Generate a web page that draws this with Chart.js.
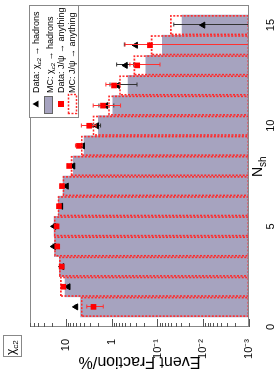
<!DOCTYPE html>
<html>
<head>
<meta charset="utf-8">
<script src="https://cdn.jsdelivr.net/npm/chart.js@4.4.0/dist/chart.umd.min.js"></script>
<style>
  html, body { margin: 0; padding: 0; background: #fff; overflow: hidden; }
  body { width: 277px; height: 369px; position: relative; }
  /* the plot is drawn landscape, then turned a quarter turn to the left */
  #wrap {
    position: absolute; left: 0; top: 0;
    width: 369px; height: 277px;
    transform-origin: 0 0;
    transform: translate(0, 369px) rotate(-90deg);
  }
</style>
</head>
<body>
<div id="wrap"><canvas id="chartNsh" width="369" height="277"></canvas></div>
<script>
const nsh = [1, 2, 3, 4, 5, 6, 7, 8, 9, 10, 11, 12, 13, 14, 15];

// MC histograms (%)
const mcChic2 = [4.8, 10.5, 14.0, 17.6, 18.2, 14.7, 11.5, 6.9, 4.0, 1.95, 0.95, 0.44, 0.18, 0.078, 0.029];
const mcJpsi  = [4.5, 12.9, 13.6, 17.4, 17.6, 14.5, 11.3, 7.5, 4.5, 2.5, 1.15, 0.66, 0.32, 0.134, 0.051];

// data points (%) with lower / upper ends of the error bars
const dataChic2   = [6.05, 8.9, 12.2, 18.5, 18.2, 12.9, 9.7, 7.0, 4.3, 2.13, 1.34, 0.74, 0.50, 0.30, 0.0101];
const dataChic2Lo = [5.85, 8.6, 11.8, 17.9, 17.6, 12.4, 9.3, 6.6, 4.0, 1.75, 0.9, 0.28, 0.33, 0.15, 0.0001];
const dataChic2Hi = [6.25, 9.2, 12.6, 19.1, 18.8, 13.4, 10.1, 7.4, 4.6, 2.6, 1.9, 1.09, 0.78, 0.53, 0.044];

const dataJpsi   = [2.5, 11.4, 12.4, 15.5, 16.0, 14.2, 12.2, 8.5, 5.2, 3.1, 1.55, 0.89, 0.277, 0.146, null];
const dataJpsiLo = [1.53, 10.8, 11.8, 14.8, 15.3, 13.5, 11.4, 7.7, 4.4, 2.2, 0.64, 0.66, 0.088, 0.0001, null];
const dataJpsiHi = [3.5, 12.0, 13.0, 16.2, 16.7, 14.9, 13.0, 9.3, 6.2, 4.6, 2.54, 1.34, 0.40, 0.51, null];

const yTicks = [0.001, 0.01, 0.1, 1, 10];
const xTicks = [0, 5, 10, 15];

const FONT = '"Liberation Sans", Arial, Helvetica, sans-serif';
const sup = { '-': '\u207B', '1': '\u00B9', '2': '\u00B2', '3': '\u00B3' };

function logLabel(v) {
  const l = Math.log10(v);
  const e = Math.round(l);
  if (Math.abs(l - e) > 1e-6 || !yTicks.includes(Math.pow(10, e)) && e > 1) return '';
  if (e === 0) return '1';
  if (e === 1) return '10';
  return '10' + String(e).split('').map(c => sup[c]).join('');
}

function pts(vals) {
  return nsh.map((x, i) => ({ x: x, y: vals[i] }));
}

// text with subscripts, parts drawn one after the other
function rich(ctx, x, y, parts, size) {
  parts.forEach(p => {
    ctx.font = (p.s || size) + 'px ' + FONT;
    ctx.fillText(p.t, x, y + (p.dy || 0));
    x += ctx.measureText(p.t).width;
  });
}

const decor = {
  id: 'decor',
  beforeDatasetDraw(chart, args) {
    const ds = chart.data.datasets[args.index];
    if (!ds.errLo) return;
    const ctx = chart.ctx, ca = chart.chartArea;
    const xs = chart.scales.x, ys = chart.scales.y;
    ctx.save();
    ctx.beginPath();
    ctx.rect(ca.left, ca.top, ca.right - ca.left, ca.bottom - ca.top);
    ctx.clip();
    ctx.strokeStyle = ds.errColor;
    ctx.lineWidth = 1;
    ds.data.forEach((p, i) => {
      if (p.y == null) return;
      const x = Math.round(xs.getPixelForValue(p.x)) + 0.5;
      const y1 = ys.getPixelForValue(Math.max(ds.errLo[i], 1e-4));
      const y2 = ys.getPixelForValue(ds.errHi[i]);
      ctx.beginPath();
      ctx.moveTo(x, y1); ctx.lineTo(x, y2);
      ctx.moveTo(x - 2, y1); ctx.lineTo(x + 2, y1);
      ctx.moveTo(x - 2, y2); ctx.lineTo(x + 2, y2);
      ctx.stroke();
    });
    ctx.restore();
  },
  afterDatasetDraw(chart, args) {
    const ds = chart.data.datasets[args.index];
    if (!ds.dashedBox) return;
    const ctx = chart.ctx;
    const meta = chart.getDatasetMeta(args.index);
    ctx.save();
    ctx.strokeStyle = '#ff2a2a';
    ctx.lineWidth = 1.6;
    ctx.setLineDash([2, 1.5]);
    meta.data.forEach(bar => {
      const b = bar.getProps(['x', 'y', 'base', 'width'], true);
      ctx.strokeRect(b.x - b.width / 2 + 0.8, b.y, b.width - 1.6, b.base - b.y - 0.8);
    });
    ctx.restore();
  },
  afterDraw(chart) {
    const ctx = chart.ctx, ca = chart.chartArea;
    const ys = chart.scales.y;
    ctx.save();

    // frame
    ctx.strokeStyle = '#888';
    ctx.lineWidth = 1;
    ctx.strokeRect(ca.left + 0.5, ca.top + 0.5, ca.right - ca.left - 1, ca.bottom - ca.top - 1);

    // log ticks pointing into the pad
    ctx.strokeStyle = '#555';
    ctx.beginPath();
    for (let e = -3; e <= 1; e++) {
      for (let m = 1; m <= 9; m++) {
        const v = m * Math.pow(10, e);
        if (v > ys.max) break;
        const y = Math.round(ys.getPixelForValue(v)) + 0.5;
        ctx.moveTo(ca.left, y);
        ctx.lineTo(ca.left + (m === 1 ? 8 : 4), y);
      }
    }
    ctx.stroke();

    // x axis title N_sh
    ctx.fillStyle = '#000';
    ctx.textBaseline = 'alphabetic';
    rich(ctx, ca.left + 150, ca.bottom + 13, [{ t: 'N' }, { t: 'sh', s: 10, dy: 4 }], 14);

    // chi_c2 tag
    ctx.strokeStyle = '#888';
    ctx.strokeRect(12.5, 3.5, 21, 18);
    rich(ctx, 14, 15, [{ t: '\u03C7' }, { t: 'c2', s: 8, dy: 3 }], 12);

    // legend
    const lx = ca.right - 113, ly = ca.top - 1;
    ctx.fillStyle = '#fff';
    ctx.fillRect(lx, ly, 113, 50);
    ctx.strokeStyle = '#888';
    ctx.strokeRect(lx + 0.5, ly + 0.5, 112, 49);

    // triangle marker
    ctx.fillStyle = '#000';
    ctx.beginPath();
    ctx.moveTo(lx + 14, ly + 3.5);
    ctx.lineTo(lx + 17.5, ly + 9.5);
    ctx.lineTo(lx + 10.5, ly + 9.5);
    ctx.closePath();
    ctx.fill();
    // gray box
    ctx.fillStyle = '#a6a3bf';
    ctx.fillRect(lx + 4, ly + 15, 18, 9);
    ctx.strokeStyle = '#666';
    ctx.strokeRect(lx + 4.5, ly + 15.5, 17, 8);
    // red square
    ctx.fillStyle = '#ff0000';
    ctx.fillRect(lx + 11, ly + 29, 6, 6);
    // dashed red box
    ctx.strokeStyle = '#ff2a2a';
    ctx.lineWidth = 1.4;
    ctx.setLineDash([2, 1.5]);
    ctx.strokeRect(lx + 4.5, ly + 39.5, 19, 8);
    ctx.setLineDash([]);

    ctx.fillStyle = '#000';
    const tx = lx + 25;
    rich(ctx, tx, ly + 9.5, [{ t: 'Data: \u03C7' }, { t: 'c2', s: 6, dy: 2 }, { t: ' \u2192 hadrons' }], 9);
    rich(ctx, tx, ly + 23.5, [{ t: 'MC: \u03C7' }, { t: 'c2', s: 6, dy: 2 }, { t: ' \u2192 hadrons' }], 9);
    rich(ctx, tx, ly + 34.5, [{ t: 'Data: J/\u03C8 \u2192 anything' }], 9);
    rich(ctx, tx, ly + 46, [{ t: 'MC: J/\u03C8 \u2192 anything' }], 9);

    ctx.restore();
  }
};

new Chart(document.getElementById('chartNsh'), {
  type: 'bar',
  data: {
    datasets: [
      {
        label: 'MC: chi_c2 -> hadrons',
        data: pts(mcChic2),
        backgroundColor: '#a6a3bf',
        borderWidth: 0,
        barPercentage: 1,
        categoryPercentage: 1,
        grouped: false,
        order: 4
      },
      {
        label: 'MC: J/psi -> anything',
        data: pts(mcJpsi),
        backgroundColor: 'rgba(0,0,0,0)',
        borderWidth: 0,
        barPercentage: 1,
        categoryPercentage: 1,
        grouped: false,
        dashedBox: true,
        order: 3
      },
      {
        type: 'line',
        label: 'Data: chi_c2 -> hadrons',
        data: pts(dataChic2),
        showLine: false,
        pointStyle: 'triangle',
        pointRadius: 3.5,
        pointBackgroundColor: '#000',
        pointBorderColor: '#000',
        pointBorderWidth: 1,
        errLo: dataChic2Lo,
        errHi: dataChic2Hi,
        errColor: '#333',
        order: 1
      },
      {
        type: 'line',
        label: 'Data: J/psi -> anything',
        data: pts(dataJpsi),
        showLine: false,
        pointStyle: 'rect',
        pointRadius: 4,
        pointBackgroundColor: '#ff0000',
        pointBorderColor: '#ff0000',
        pointBorderWidth: 0,
        errLo: dataJpsiLo,
        errHi: dataJpsiHi,
        errColor: '#ff3030',
        order: 0
      }
    ]
  },
  options: {
    responsive: false,
    animation: false,
    devicePixelRatio: 1,
    events: [],
    layout: { padding: { left: 0, right: 4, top: 30, bottom: 0 } },
    plugins: {
      legend: { display: false },
      tooltip: { enabled: false }
    },
    scales: {
      x: {
        type: 'linear',
        min: 0,
        max: 16,
        offset: false,
        grid: { display: false },
        border: { display: false },
        ticks: {
          stepSize: 5,
          includeBounds: false,
          padding: 7,
          color: '#000',
          font: { family: FONT, size: 11 },
          callback: v => xTicks.includes(v) ? String(v) : ''
        },
        afterFit: s => { s.height = 28; }
      },
      y: {
        type: 'logarithmic',
        min: 0.001,
        max: 61,
        grid: { display: false },
        border: { display: false },
        ticks: {
          autoSkip: false,
          padding: 4,
          color: '#000',
          font: { family: FONT, size: 11 },
          callback: v => logLabel(v)
        },
        title: {
          display: true,
          text: 'Event Fraction/%',
          color: '#000',
          padding: { top: 0, bottom: 0 },
          font: { family: FONT, size: 16, lineHeight: 1 }
        },
        afterFit: s => { s.width = 42; }
      }
    }
  },
  plugins: [decor]
});
</script>
</body>
</html>
